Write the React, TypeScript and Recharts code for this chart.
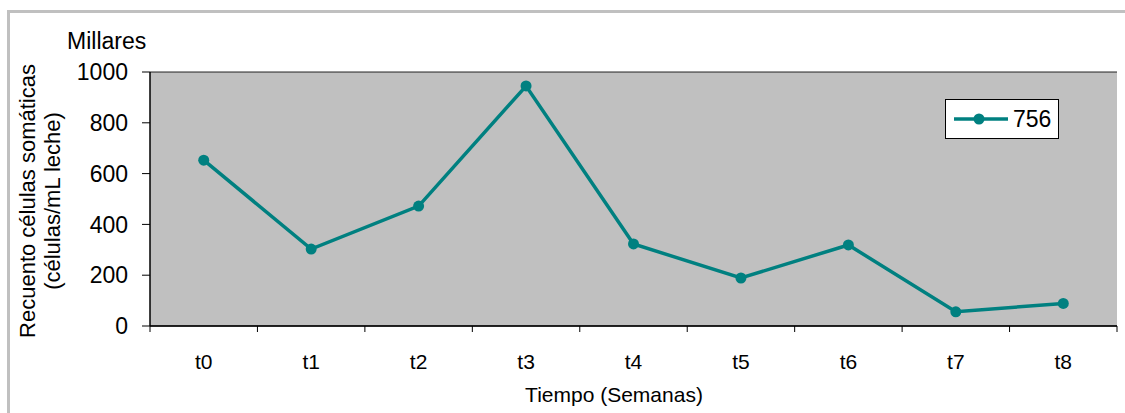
import { LineChart, Line, XAxis, YAxis, CartesianGrid } from 'recharts'

const weeks = ['t0', 't1', 't2', 't3', 't4', 't5', 't6', 't7', 't8']
const counts = [653, 303, 472, 945, 323, 189, 319, 56, 89]
const seriesName = '756'
const yTicks = [0, 200, 400, 600, 800, 1000]

const FONT = '"Liberation Sans", Arial, sans-serif'
const TEAL = '#008080'

const data = weeks.map((week, i) => ({ week, [seriesName]: counts[i] }))

// category label centred in its band, with tick marks on the band edges
function WeekTick(props: any) {
  const { x, y, payload, index, visibleTicksCount, width } = props
  const half = payload.offset ?? width / visibleTicksCount / 2
  const last = index === visibleTicksCount - 1
  return (
    <g>
      <line x1={x - half} x2={x - half} y1={y - 6} y2={y} stroke="#000" />
      {last && <line x1={x + half} x2={x + half} y1={y - 6} y2={y} stroke="#000" />}
      <text x={x} y={y + 37} textAnchor="middle" fontSize={21} fontFamily={FONT} fill="#000">
        {payload.value}
      </text>
    </g>
  )
}

function LegendBox({ name }: { name: string }) {
  return (
    <div
      style={{
        position: 'absolute',
        left: 945,
        top: 99,
        width: 112,
        height: 38,
        background: '#fff',
        border: '1px solid #000',
        display: 'flex',
        alignItems: 'center',
        fontFamily: FONT,
        fontSize: 23,
      }}
    >
      <svg width={62} height={38}>
        <line x1={8} x2={62} y1={19} y2={19} stroke={TEAL} strokeWidth={3.5} />
        <circle cx={33} cy={19} r={5.5} fill={TEAL} />
      </svg>
      <span style={{ marginLeft: 5, color: '#000' }}>{name}</span>
    </div>
  )
}

export default function App() {
  return (
    <div style={{ position: 'fixed', left: 0, top: 0, width: 1125, height: 413, background: '#fff', overflow: 'hidden' }}>
      <div
        style={{
          position: 'absolute',
          left: 7,
          top: 10,
          width: 1130,
          height: 420,
          borderTop: '3px solid #c0c0c0',
          borderLeft: '3px solid #c0c0c0',
        }}
      />
      <div style={{ position: 'absolute', left: 0, top: 0 }}>
        <LineChart width={1125} height={413} data={data} margin={{ top: 72, right: 8, bottom: 47, left: 90 }}>
          <CartesianGrid vertical={false} fill="#c0c0c0" stroke="#000" strokeOpacity={0.85} />
          <XAxis
            dataKey="week"
            scale="band"
            height={40}
            tickLine={false}
            tickSize={6}
            tickMargin={0}
            axisLine={{ stroke: '#000', strokeWidth: 1.5 }}
            tick={<WeekTick />}
            interval={0}
          />
          <XAxis xAxisId="top" orientation="top" dataKey="week" scale="band" height={0} tick={false} tickLine={false} axisLine={{ stroke: '#808080', strokeWidth: 2 }} />
          <YAxis
            yAxisId="left"
            domain={[0, 1000]}
            ticks={yTicks}
            width={60}
            tickSize={8}
            tickMargin={14}
            tickLine={{ stroke: '#000' }}
            axisLine={{ stroke: '#000', strokeWidth: 1.5 }}
            tick={{ fontSize: 23, fontFamily: FONT, fill: '#000' }}
            interval={0}
          />
          <YAxis yAxisId="right" orientation="right" domain={[0, 1000]} width={0} tick={false} tickLine={false} axisLine={{ stroke: '#808080', strokeWidth: 2 }} />
          <Line
            yAxisId="left"
            type="linear"
            dataKey={seriesName}
            stroke={TEAL}
            strokeWidth={3.5}
            dot={{ r: 5.5, fill: TEAL, stroke: TEAL, strokeWidth: 0 }}
            activeDot={false}
            isAnimationActive={false}
          />
        </LineChart>
      </div>
      <LegendBox name={seriesName} />
      <svg width={1125} height={413} style={{ position: 'absolute', left: 0, top: 0, pointerEvents: 'none' }}>
        <text x={67} y={49} fontSize={23} fontFamily={FONT} fill="#000">
          Millares
        </text>
        <text x={614} y={402} textAnchor="middle" fontSize={21} fontFamily={FONT} fill="#000">
          Tiempo (Semanas)
        </text>
        <text x={35} y={201} transform="rotate(-90 35 201)" textAnchor="middle" fontSize={22} fontFamily={FONT} fill="#000">
          Recuento células somáticas
        </text>
        <text x={60} y={201} transform="rotate(-90 60 201)" textAnchor="middle" fontSize={22} fontFamily={FONT} fill="#000">
          (células/mL leche)
        </text>
      </svg>
    </div>
  )
}
